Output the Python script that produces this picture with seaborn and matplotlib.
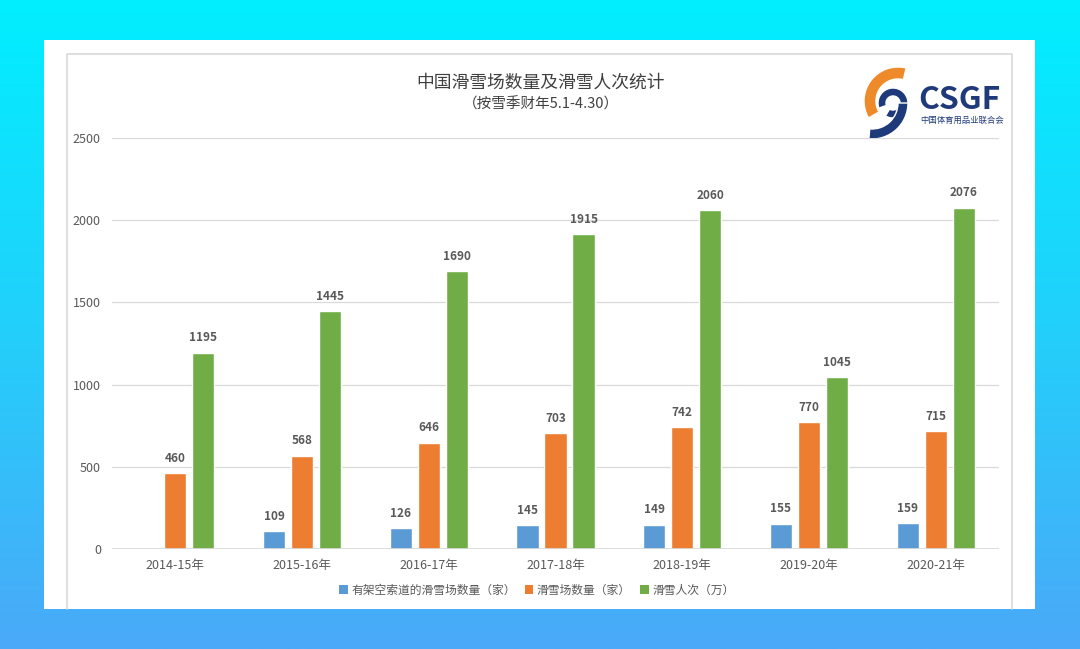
import numpy as np
import pandas as pd
import seaborn as sns
import matplotlib.pyplot as plt
from matplotlib.patches import Rectangle, Patch, Wedge
from matplotlib.colors import LinearSegmentedColormap

# --- datos ---
seasons = ["2014-15年", "2015-16年", "2016-17年", "2017-18年", "2018-19年", "2019-20年", "2020-21年"]
series_names = ["有架空索道的滑雪场数量（家）", "滑雪场数量（家）", "滑雪人次（万）"]
ropeway_resorts = [np.nan, 109, 126, 145, 149, 155, 159]
ski_resorts = [460, 568, 646, 703, 742, 770, 715]
skier_visits = [1195, 1445, 1690, 1915, 2060, 1045, 2076]
colors = ["#5B9BD5", "#ED7D31", "#70AD47"]
yticks = [0, 500, 1000, 1500, 2000, 2500]

title = "中国滑雪场数量及滑雪人次统计"
subtitle = "（按雪季财年5.1-4.30）"

df = pd.DataFrame({
    "season": seasons * 3,
    "series": [s for s in series_names for _ in seasons],
    "value": ropeway_resorts + ski_resorts + skier_visits,
}).dropna()

sns.set_theme(style="white")
plt.rcParams["font.family"] = ["Noto Sans CJK SC", "DejaVu Sans"]

W, H = 1080, 649
fig = plt.figure(figsize=(W / 100, H / 100), dpi=100)

# fondo degradado + tarjeta blanca
bg = fig.add_axes([0, 0, 1, 1])
bg.set_xlim(0, W)
bg.set_ylim(H, 0)
bg.axis("off")
cmap = LinearSegmentedColormap.from_list("bg", ["#00EFFF", "#22D0FB", "#4BA9F8"])
grad = np.linspace(0, 1, 256).reshape(-1, 1)
bg.imshow(grad, cmap=cmap, extent=[0, W, H, 0], aspect="auto", zorder=0)
bg.add_patch(Rectangle((44, 40), 991, 569, facecolor="white", edgecolor="none", zorder=1))
bg.plot([67, 67, 1012, 1012], [609, 54, 54, 609], color="#D9D9D9", lw=1.2, zorder=2)

# logo CSGF (aproximado)
bg.add_patch(Wedge((898, 101), 34, 150, 284, width=12, facecolor="#EE8A2A", zorder=3))
bg.add_patch(Wedge((893, 103), 15, -200, 120, width=8, facecolor="#1F3A7A", zorder=3))
bg.add_patch(Wedge((872, 103), 36, 0, 95, width=10, facecolor="#1F3A7A", zorder=3))
bg.text(918, 100, "CSGF", fontsize=23, fontweight="heavy", color="#1F3A7A",
        ha="left", va="center", style="italic", zorder=3)
bg.text(920, 120, "中国体育用品业联合会", fontsize=6, color="#1F3A7A",
        ha="left", va="center", zorder=3)

# títulos
bg.text(541, 83, title, fontsize=12.8, color="#404040", ha="center", va="center", zorder=3)
bg.text(541, 104, subtitle, fontsize=10.5, color="#404040", ha="center", va="center", zorder=3)

# gráfico de barras
ax = fig.add_axes([112 / W, 1 - 549 / H, 887 / W, 411 / H])
ax.set_facecolor("none")
sns.barplot(data=df, x="season", y="value", hue="series", order=seasons,
            hue_order=series_names, palette=colors, width=0.663, gap=0.21,
            saturation=1, legend=False, ax=ax, zorder=3)

for cont in ax.containers:
    ax.bar_label(cont, fmt="%d", padding=6, fontsize=8.5, fontweight="bold", color="#595959")

ax.set_ylim(0, 2500)
ax.set_xlim(-0.5, len(seasons) - 0.5)
ax.set_yticks(yticks)
ax.set_yticklabels([str(v) for v in yticks])
ax.grid(axis="y", color="#D9D9D9", linewidth=0.9, zorder=0)
ax.set_axisbelow(True)
ax.axhline(0, color="#D9D9D9", lw=1.2, zorder=4)
for sp in ax.spines.values():
    sp.set_visible(False)
ax.tick_params(axis="both", length=0, labelsize=9, labelcolor="#595959")
ax.tick_params(axis="x", pad=7)
ax.tick_params(axis="y", pad=8)
ax.set_xlabel("")
ax.set_ylabel("")

handles = [Patch(facecolor=c, edgecolor="none") for c in colors]
fig.legend(handles, series_names, loc="center", bbox_to_anchor=(537 / W, 1 - 590 / H),
           ncol=3, frameon=False, fontsize=8.5, labelcolor="#595959",
           handlelength=0.7, handleheight=0.7, handletextpad=0.3, columnspacing=0.8)

fig.savefig("out.png", dpi=100)
